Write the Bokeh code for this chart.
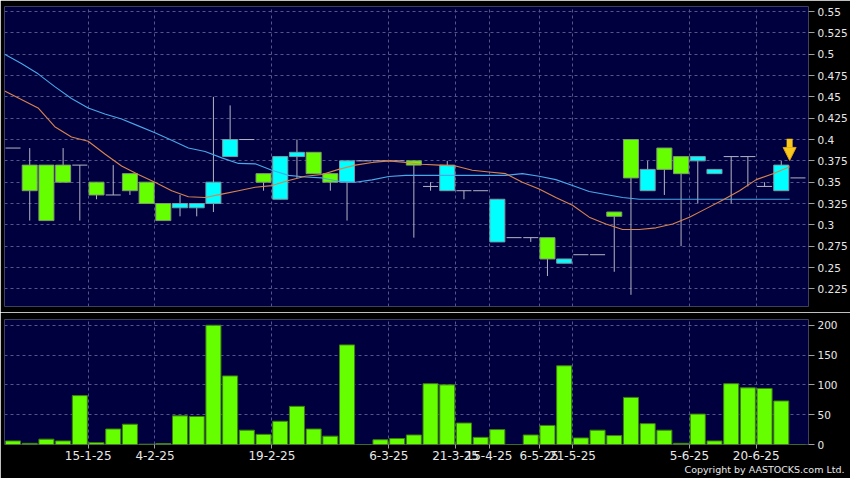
from bokeh.plotting import figure
from bokeh.layouts import column
from bokeh.models import (Range1d, FixedTicker, LinearAxis, Grid, CustomJSTickFormatter,
                          Arrow, NormalHead, Title)
from bokeh.embed import file_html
from bokeh.resources import INLINE

# ---------------- data ----------------
idx = list(range(48))
opens = [0.39, 0.37, 0.37, 0.37, 0.37, 0.35, 0.335, 0.36, 0.35, 0.325,
         0.32, 0.32, 0.325, 0.38, 0.40, 0.36, 0.33, 0.38, 0.385, 0.36,
         0.35, 0.375, 0.375, 0.375, 0.375, 0.345, 0.34, 0.34, 0.34, 0.28,
         0.285, 0.285, 0.285, 0.255, 0.265, 0.265, 0.315, 0.40, 0.34, 0.39,
         0.38, 0.375, 0.36, 0.38, 0.38, 0.345, 0.34, 0.355]
highs = [0.39, 0.39, 0.37, 0.39, 0.37, 0.35, 0.37, 0.36, 0.35, 0.325,
         0.335, 0.325, 0.45, 0.44, 0.40, 0.36, 0.38, 0.40, 0.385, 0.36,
         0.375, 0.375, 0.375, 0.375, 0.375, 0.35, 0.375, 0.34, 0.34, 0.33,
         0.285, 0.285, 0.285, 0.26, 0.265, 0.265, 0.315, 0.40, 0.375, 0.39,
         0.38, 0.38, 0.365, 0.38, 0.38, 0.35, 0.375, 0.355]
lows = [0.39, 0.305, 0.305, 0.35, 0.305, 0.33, 0.335, 0.335, 0.325, 0.305,
        0.31, 0.31, 0.315, 0.38, 0.40, 0.34, 0.33, 0.355, 0.36, 0.34,
        0.305, 0.375, 0.375, 0.375, 0.285, 0.34, 0.34, 0.33, 0.34, 0.28,
        0.285, 0.28, 0.24, 0.255, 0.265, 0.265, 0.245, 0.218, 0.34, 0.335,
        0.275, 0.325, 0.36, 0.325, 0.345, 0.345, 0.34, 0.355]
closes = [0.39, 0.34, 0.305, 0.35, 0.37, 0.335, 0.335, 0.34, 0.325, 0.305,
          0.325, 0.325, 0.35, 0.40, 0.40, 0.35, 0.38, 0.385, 0.36, 0.35,
          0.375, 0.375, 0.375, 0.375, 0.37, 0.345, 0.37, 0.34, 0.34, 0.33,
          0.285, 0.285, 0.26, 0.26, 0.265, 0.265, 0.31, 0.355, 0.365, 0.365,
          0.36, 0.38, 0.365, 0.38, 0.38, 0.345, 0.37, 0.355]
volume = [6, 2, 9, 6, 82, 3, 26, 34, 0.5, 1.5,
          48, 47, 200, 115, 24, 17, 39, 64, 26, 14,
          167, 0, 8, 10, 16, 102, 100, 36, 12, 25,
          0, 16, 32, 132, 11, 24, 15, 79, 35, 24,
          2, 51, 6, 102, 95, 94, 73, 0]
ma_short = [0.457, 0.447, 0.437, 0.415, 0.403, 0.398, 0.383, 0.369, 0.359, 0.350,
            0.340, 0.333, 0.332, 0.336, 0.340, 0.344, 0.346, 0.352, 0.357, 0.359,
            0.365, 0.370, 0.373, 0.375, 0.373, 0.371, 0.370, 0.369, 0.364, 0.362,
            0.360, 0.350, 0.342, 0.332, 0.323, 0.309, 0.301, 0.2945, 0.2945, 0.2965,
            0.301, 0.309, 0.319, 0.329, 0.340, 0.353, 0.360, 0.368]
ma_long = [0.500, 0.489, 0.477, 0.462, 0.448, 0.437, 0.430, 0.424, 0.416, 0.408,
           0.399, 0.390, 0.386, 0.3785, 0.372, 0.3715, 0.364, 0.358, 0.356, 0.355,
           0.351, 0.350, 0.3527, 0.3566, 0.358, 0.358, 0.358, 0.358, 0.358, 0.358,
           0.358, 0.360, 0.357, 0.353, 0.346, 0.339, 0.3355, 0.332, 0.330, 0.330,
           0.330, 0.330, 0.330, 0.330, 0.330, 0.330, 0.330, 0.330]
price_ticks = [0.225, 0.25, 0.275, 0.3, 0.325, 0.35, 0.375, 0.4, 0.425, 0.45,
               0.475, 0.5, 0.525, 0.55]
volume_ticks = [0, 50, 100, 150, 200]
date_tick_pos = [4.5, 8.5, 15.5, 22.5, 26.5, 28.5, 31.5, 33.5, 40.5, 44.5]
date_labels = ["15-1-25", "4-2-25", "19-2-25", "6-3-25", "21-3-25", "15-4-25",
               "6-5-25", "21-5-25", "5-6-25", "20-6-25"]
arrow_x, arrow_top, arrow_tip = 46.5, 0.401, 0.3755
copyright_text = "Copyright by AASTOCKS.com Ltd."

# ---------------- styles ----------------
NAVY = "#00003e"
UP = "#00ffff"
DOWN = "#66ff00"
GRID = "#55558a"
TEXT = "#e8e8e8"
FONT = "DejaVu Sans"
BODY_W = 0.9

x_range = Range1d(-0.51, 47.63)

up = [i for i in idx if closes[i] > opens[i]]
down = [i for i in idx if closes[i] < opens[i]]
flat = [i for i in idx if closes[i] == opens[i]]
ma_x = [i - 0.5 for i in idx]


def style_axis(ax, size):
    ax.axis_line_color = None
    ax.major_tick_line_color = "#a0a0a0"
    ax.major_tick_out = 6
    ax.major_tick_in = 0
    ax.minor_tick_line_color = None
    ax.major_label_text_color = TEXT
    ax.major_label_text_font = FONT
    ax.major_label_text_font_size = size
    ax.major_label_standoff = 3


def add_grid(p, dim, ticks):
    g = Grid(dimension=dim, ticker=FixedTicker(ticks=ticks), grid_line_color=GRID,
             grid_line_dash="3 3", grid_line_width=1)
    p.add_layout(g, "center")


num_fmt = CustomJSTickFormatter(code="""
let s = tick.toFixed(3);
s = s.replace(/0+$/, '').replace(/\\.$/, '');
return s;
""")

# ---------------- price panel ----------------
p1 = figure(width=850, height=312, x_range=x_range, y_range=Range1d(0.2043, 0.5559),
            output_backend="svg", toolbar_location=None,
            x_axis_location=None, y_axis_location=None,
            min_border_left=4, min_border_right=42, min_border_top=6, min_border_bottom=6,
            background_fill_color=NAVY, border_fill_color="black", outline_line_color=None)
p1.xgrid.visible = False
p1.ygrid.visible = False
add_grid(p1, 0, date_tick_pos)
add_grid(p1, 1, price_ticks)

ay1 = LinearAxis(ticker=FixedTicker(ticks=price_ticks), formatter=num_fmt)
style_axis(ay1, "10.5px")
p1.add_layout(ay1, "right")

# wicks
p1.segment(x0=idx, y0=lows, x1=idx, y1=highs, line_color="#b4b4c4", line_width=1)
# flat candles
p1.segment(x0=[i - BODY_W / 2 for i in flat], y0=[opens[i] for i in flat],
           x1=[i + BODY_W / 2 for i in flat], y1=[closes[i] for i in flat],
           line_color="#b4b4c4", line_width=1)
# bodies
p1.vbar(x=up, width=BODY_W, top=[closes[i] for i in up], bottom=[opens[i] for i in up],
        fill_color=UP, line_color="#7a9aa6", line_width=1)
p1.vbar(x=down, width=BODY_W, top=[opens[i] for i in down], bottom=[closes[i] for i in down],
        fill_color=DOWN, line_color="#7f9a70", line_width=1)
# moving averages
p1.line(ma_x, ma_long, line_color="#48a8e8", line_width=1.1)
p1.line(ma_x, ma_short, line_color="#d9844e", line_width=1.1)

p1.add_layout(Arrow(end=NormalHead(size=13, fill_color="#f8c81c", line_color="#e0a010"),
                    x_start=arrow_x, y_start=arrow_top, x_end=arrow_x, y_end=arrow_tip,
                    line_color="#f8c81c", line_width=6))

# ---------------- volume panel ----------------
p2 = figure(width=850, height=166, x_range=x_range, y_range=Range1d(0, 209.6),
            output_backend="svg", toolbar_location=None,
            x_axis_location=None, y_axis_location=None,
            min_border_left=4, min_border_right=42, min_border_top=7, min_border_bottom=34,
            background_fill_color=NAVY, border_fill_color="black", outline_line_color=None)
p2.xgrid.visible = False
p2.ygrid.visible = False
add_grid(p2, 0, date_tick_pos)
add_grid(p2, 1, volume_ticks)

ay2 = LinearAxis(ticker=FixedTicker(ticks=volume_ticks), formatter=num_fmt)
style_axis(ay2, "10.5px")
p2.add_layout(ay2, "right")

ax2 = LinearAxis(ticker=FixedTicker(ticks=date_tick_pos),
                 formatter=CustomJSTickFormatter(args=dict(pos=date_tick_pos, labs=date_labels),
                                                 code="""
const i = pos.indexOf(tick);
return i >= 0 ? labs[i] : '';
"""))
style_axis(ax2, "12px")
ax2.major_tick_out = 4
ax2.major_label_standoff = 2
p2.add_layout(ax2, "below")

p2.add_layout(Title(text=copyright_text, align="right", offset=-36, standoff=0,
                    vertical_align="middle", text_font=FONT, text_font_size="9.5px",
                    text_font_style="normal", text_color=TEXT), "below")

p2.vbar(x=idx, width=BODY_W, top=volume, bottom=0, fill_color=DOWN,
        line_color="#3e7d14", line_width=1)

layout = column(p1, p2, spacing=0,
                styles={"position": "absolute", "left": "0px", "top": "0px"})

open("out.html", "w").write(file_html(layout, INLINE))
